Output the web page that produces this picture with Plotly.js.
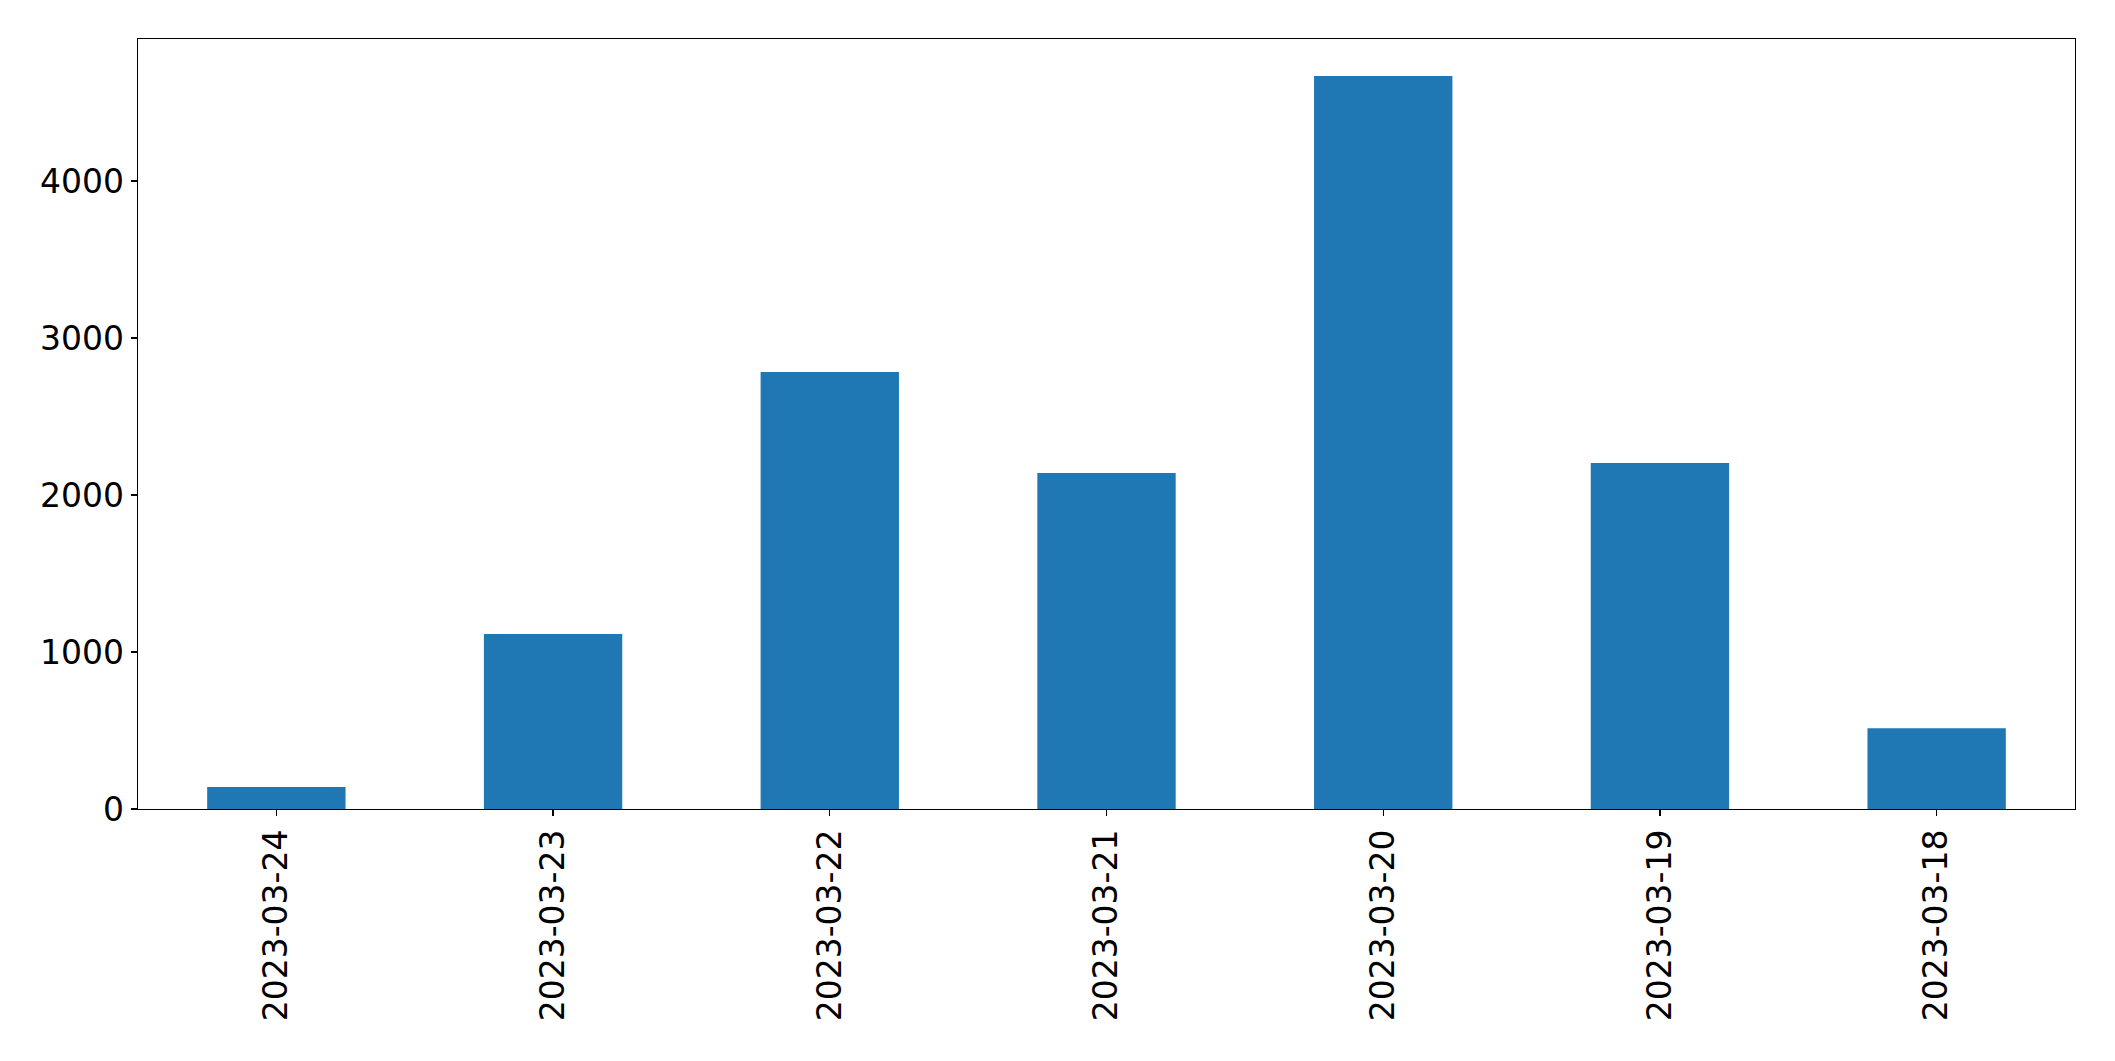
<!DOCTYPE html>
<html>
<head>
<meta charset="utf-8">
<script src="https://cdn.plot.ly/plotly-3.0.1.min.js"></script>
<style>html,body{margin:0;padding:0;background:#fff;}#chart{width:2115px;height:1061px;}</style>
</head>
<body>
<div id="chart"></div>
<script>
var categories = ["2023-03-24", "2023-03-23", "2023-03-22", "2023-03-21", "2023-03-20", "2023-03-19", "2023-03-18"];
var values = [140, 1115, 2783, 2140, 4669, 2204, 514];
var yTickValues = [0, 1000, 2000, 3000, 4000];

var trace = {
  type: "bar",
  x: categories,
  y: values,
  width: 0.5,
  marker: {color: "#1f77b4", line: {width: 0}},
  hoverinfo: "x+y"
};

var layout = {
  width: 2115,
  height: 1061,
  margin: {l: 138, r: 40, t: 39, b: 252, pad: 0},
  paper_bgcolor: "#ffffff",
  plot_bgcolor: "#ffffff",
  showlegend: false,
  font: {family: "DejaVu Sans", size: 33, color: "#000000"},
  xaxis: {
    type: "category",
    range: [-0.5, 6.5],
    tickangle: -90,
    ticks: "outside",
    ticklen: 6,
    tickwidth: 1.3,
    tickcolor: "#000",
    showline: true,
    linecolor: "#000",
    linewidth: 1.3,
    mirror: true,
    showgrid: false,
    zeroline: false,
    tickfont: {family: "DejaVu Sans", size: 33, color: "#000"}
  },
  yaxis: {
    range: [0, 4904],
    tickmode: "array",
    tickvals: yTickValues,
    ticktext: yTickValues.map(String),
    ticks: "outside",
    ticklen: 6,
    tickwidth: 1.3,
    tickcolor: "#000",
    showline: true,
    linecolor: "#000",
    linewidth: 1.3,
    mirror: true,
    showgrid: false,
    zeroline: false,
    tickfont: {family: "DejaVu Sans", size: 33, color: "#000"}
  }
};

Plotly.newPlot("chart", [trace], layout, {displayModeBar: false, staticPlot: true});
</script>
</body>
</html>
